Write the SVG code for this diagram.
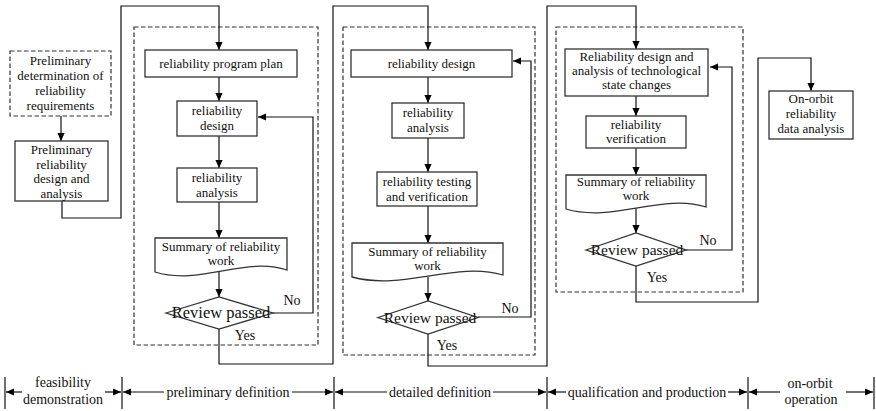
<svg xmlns="http://www.w3.org/2000/svg" width="876" height="411" viewBox="0 0 876 411">
<defs>
<marker id="ah" viewBox="0 0 10 10" refX="10" refY="5" markerWidth="8" markerHeight="8" markerUnits="userSpaceOnUse" orient="auto">
<path d="M0,0.5 L10,5 L0,9.5 Z" fill="#000"/>
</marker>
<style>
text{font-family:"Liberation Serif","Times New Roman",serif;font-size:13px;fill:#111;text-anchor:middle}
.tl{font-size:14px}
.rv{font-size:15.5px}
.yn{font-size:14px}
.box{fill:#fff;stroke:#333;stroke-width:1.3}
.dash{fill:none;stroke:#333;stroke-width:1.2;stroke-dasharray:4.5 2.5}
.frame{fill:none;stroke:#333;stroke-width:1.2;stroke-dasharray:4.5 2.5}
.a{fill:none;stroke:#111;stroke-width:1.2;marker-end:url(#ah)}
.tick{stroke:#111;stroke-width:1.2}
</style>
</defs>
<rect width="876" height="411" fill="#fff"/>

<!-- stage frames -->
<g id="frames">
<rect class="frame" x="134" y="27" width="184" height="318"/>
<rect class="frame" x="343" y="27" width="192" height="328"/>
<rect class="frame" x="556" y="27" width="187" height="265"/>
</g>

<!-- connectors -->
<g id="connectors">
<path class="a" d="M61,116 V141"/>
<path class="a" d="M62,201 V218 H121 V6 H219 V50"/>
<path class="a" d="M219,77 V101"/>
<path class="a" d="M219,136 V168"/>
<path class="a" d="M219,202 V238"/>
<path class="a" d="M219,272 V297"/>
<path class="a" d="M273,313 H313 V117 H258"/>
<path class="a" d="M219,329 V364 H333 V6 H428 V50"/>
<path class="a" d="M428,77 V103"/>
<path class="a" d="M428,138 V172"/>
<path class="a" d="M428,206 V243"/>
<path class="a" d="M428,277 V301"/>
<path class="a" d="M478,317 H531 V61 H513"/>
<path class="a" d="M428,334 V366 H547 V6 H636 V49"/>
<path class="a" d="M636,96 V116"/>
<path class="a" d="M636,148 V175"/>
<path class="a" d="M636,208 V233"/>
<path class="a" d="M686,250 H732 V67 H710"/>
<path class="a" d="M636,266 V302 H758 V58 H811 V91"/>
</g>

<!-- feasibility demonstration -->
<g id="n-prelim-req">
<rect class="dash" x="10" y="51" width="101" height="65"/>
<text x="60.5" y="65">Preliminary</text>
<text x="60.5" y="80">determination of</text>
<text x="60.5" y="95">reliability</text>
<text x="60.5" y="110">requirements</text>
</g>
<g id="n-prelim-design">
<rect class="box" x="15" y="141" width="93" height="60"/>
<text x="61.5" y="154">Preliminary</text>
<text x="61.5" y="168.5">reliability</text>
<text x="61.5" y="183">design and</text>
<text x="61.5" y="197.5">analysis</text>
</g>

<!-- preliminary definition -->
<g id="n-program-plan">
<rect class="box" x="145" y="50" width="152" height="27"/>
<text x="221" y="68">reliability program plan</text>
</g>
<g id="n-design-1">
<rect class="box" x="177" y="101" width="80" height="35"/>
<text x="217" y="115">reliability</text>
<text x="217" y="130">design</text>
</g>
<g id="n-analysis-1">
<rect class="box" x="177" y="168" width="80" height="34"/>
<text x="217" y="182">reliability</text>
<text x="217" y="197">analysis</text>
</g>
<g id="n-summary-1">
<path class="box" d="M155,238 H287 V270 C245,256 200,286 155,272 Z"/>
<text x="221" y="251">Summary of reliability</text>
<text x="221" y="265">work</text>
</g>
<g id="n-review-1">
<path class="box" d="M166,313 L219,297 L273,313 L219,329 Z"/>
<text class="rv" x="221" y="318" style="font-size:16.5px">Review passed</text>
<text class="yn" x="292" y="305">No</text>
<text class="yn" x="245" y="340">Yes</text>
</g>

<!-- detailed definition -->
<g id="n-design-2">
<rect class="box" x="351" y="50" width="161" height="27"/>
<text x="431.5" y="68">reliability design</text>
</g>
<g id="n-analysis-2">
<rect class="box" x="392" y="103" width="72" height="35"/>
<text x="428" y="117">reliability</text>
<text x="428" y="132">analysis</text>
</g>
<g id="n-testing">
<rect class="box" x="377" y="172" width="100" height="34"/>
<text x="427" y="186">reliability testing</text>
<text x="427" y="201">and verification</text>
</g>
<g id="n-summary-2">
<path class="box" d="M352,243 H503 V275 C455,261 404,291 352,277 Z"/>
<text x="427.5" y="256">Summary of reliability</text>
<text x="427.5" y="270">work</text>
</g>
<g id="n-review-2">
<path class="box" d="M378,317.5 L428,301 L478,317.5 L428,334 Z"/>
<text class="rv" x="430" y="322.5">Review passed</text>
<text class="yn" x="510" y="313">No</text>
<text class="yn" x="447" y="350">Yes</text>
</g>

<!-- qualification and production -->
<g id="n-state-changes">
<rect class="box" x="565" y="49" width="143" height="47"/>
<text x="636.5" y="61">Reliability design and</text>
<text x="636.5" y="75">analysis of technological</text>
<text x="636.5" y="89">state changes</text>
</g>
<g id="n-verification">
<rect class="box" x="586" y="116" width="100" height="32"/>
<text x="636" y="129">reliability</text>
<text x="636" y="143">verification</text>
</g>
<g id="n-summary-3">
<path class="box" d="M566,175 H706 V207 C662,193 613,223 566,209 Z"/>
<text x="636" y="186">Summary of reliability</text>
<text x="636" y="200">work</text>
</g>
<g id="n-review-3">
<path class="box" d="M586,250 L636,233 L686,250 L636,266 Z"/>
<text class="rv" x="637" y="255">Review passed</text>
<text class="yn" x="708" y="245">No</text>
<text class="yn" x="657" y="282">Yes</text>
</g>

<!-- on-orbit operation -->
<g id="n-on-orbit">
<rect class="box" x="769" y="91" width="84" height="48"/>
<text x="811" y="103">On-orbit</text>
<text x="811" y="118">reliability</text>
<text x="811" y="133">data analysis</text>
</g>

<!-- timeline -->
<g id="timeline">
<line class="tick" x1="5" y1="377" x2="5" y2="409"/>
<line class="tick" x1="122" y1="377" x2="122" y2="409"/>
<line class="tick" x1="334" y1="377" x2="334" y2="409"/>
<line class="tick" x1="547" y1="377" x2="547" y2="409"/>
<line class="tick" x1="748" y1="377" x2="748" y2="409"/>
<line class="tick" x1="874" y1="377" x2="874" y2="409"/>
<path class="a" d="M22,392 H6"/>
<path class="a" d="M105,392 H121"/>
<path class="a" d="M164,392 H123"/>
<path class="a" d="M292,392 H333"/>
<path class="a" d="M387,392 H335"/>
<path class="a" d="M493,392 H546"/>
<path class="a" d="M566,392 H548"/>
<path class="a" d="M728,392 H747"/>
<path class="a" d="M780,392 H749"/>
<path class="a" d="M846,392 H873"/>
<text class="tl" x="63" y="387">feasibility</text>
<text class="tl" x="63" y="404">demonstration</text>
<text class="tl" x="228" y="397">preliminary definition</text>
<text class="tl" x="440" y="397">detailed definition</text>
<text class="tl" x="647" y="397">qualification and production</text>
<text class="tl" x="810" y="388">on-orbit</text>
<text class="tl" x="811" y="404">operation</text>
</g>
</svg>
